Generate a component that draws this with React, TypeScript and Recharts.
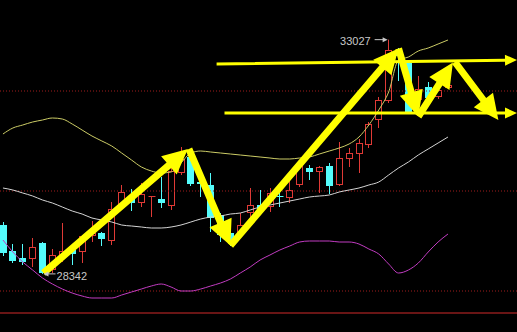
import React from "react";
import { ComposedChart, Bar, Line, XAxis, YAxis, ReferenceLine, ReferenceDot } from "recharts";

// ── daily candles ──────────────────────────────────────────────────────────
const opens = [
  29320, 28800, 28660, 28640, 28960, 28420, 28700, 28820, 28780, 29100, 29160, 29000,
  29720, 29860, 29760, 29880, 29840, 29700, 30360, 30680, 30180, 30120, 29520, 29160,
  29160, 29560, 29720, 29680, 29900, 29860, 30120, 30460, 30380, 30500, 30120, 30640,
  30740, 30920, 31420, 31800, 32780, 32560, 31820, 32080, 31880, 32060,
];
const highs = [
  29380, 28940, 28940, 29060, 28980, 28840, 29360, 28900, 29120, 29400, 29180, 29780,
  30120, 30040, 30160, 29900, 30280, 30460, 30880, 30780, 30200, 30360, 29560, 29240,
  29560, 30060, 30020, 30060, 29960, 30200, 30540, 30520, 30500, 30560, 30980, 30860,
  31040, 31380, 31880, 33027, 32860, 32620, 32300, 32180, 32060, 32160,
];
const lows = [
  28700, 28560, 28520, 28480, 28342, 28360, 28580, 28520, 28560, 28980, 28900, 28920,
  29620, 29600, 29680, 29480, 29660, 29620, 30320, 30100, 29880, 29180, 28980, 28900,
  29080, 29460, 29560, 29580, 29680, 29760, 30080, 30220, 29960, 29940, 30100, 30480,
  30360, 30860, 31260, 31760, 32200, 31580, 31660, 31840, 31840, 32040,
];
const closes = [
  28760, 28600, 28580, 28880, 28360, 28720, 28800, 28740, 29100, 29160, 29040, 29640,
  29980, 29760, 29940, 29900, 29760, 30400, 30640, 30140, 30140, 29460, 29120, 29000,
  29320, 29720, 29620, 29960, 29880, 30020, 30500, 30380, 30480, 30100, 30660, 30760,
  30960, 31340, 31820, 32820, 32700, 31580, 32040, 31860, 32020, 32120,
];

// ── bollinger bands ────────────────────────────────────────────────────────
const upperBand = [
  31140, 31260, 31320, 31380, 31420, 31460, 31440, 31340, 31220, 31100, 31000, 30900,
  30760, 30620, 30480, 30400, 30360, 30380, 30560, 30760, 30800, 30780, 30760, 30740,
  30720, 30700, 30680, 30660, 30640, 30640, 30660, 30680, 30740, 30800, 30860, 30940,
  31080, 31320, 31620, 31980, 32620, 32680, 32800, 32860, 32940, 33020,
];
const midBand = [
  30060, 30020, 29960, 29900, 29820, 29760, 29680, 29600, 29540, 29460, 29420, 29380,
  29320, 29300, 29280, 29260, 29260, 29280, 29320, 29380, 29440, 29480, 29500, 29540,
  29560, 29620, 29680, 29720, 29760, 29800, 29840, 29880, 29900, 29920, 29980, 30020,
  30060, 30120, 30180, 30320, 30460, 30580, 30720, 30840, 30960, 31080,
];
const lowerBand = [
  29020, 28780, 28580, 28420, 28260, 28140, 28040, 27960, 27900, 27860, 27860, 27860,
  27920, 27980, 28040, 28100, 28140, 28080, 28000, 28000, 28040, 28100, 28160, 28240,
  28360, 28480, 28620, 28720, 28820, 28900, 28980, 29000, 29000, 29000, 28980, 28980,
  28940, 28840, 28740, 28540, 28360, 28420, 28560, 28780, 28980, 29140,
];

// ── hand-drawn annotations (bar index, price) ──────────────────────────────
const gridLevels = [32000, 30000, 28000];
const baseLevel = 27560;
const bigArrows: [number, number, number, number][] = [
  [4.1, 28360, 18.7, 30840],
  [18.8, 30840, 23.0, 28910],
  [23.0, 28910, 40.0, 32850],
  [40.0, 32850, 42.0, 31490],
  [42.0, 31490, 45.5, 32570],
  [45.7, 32580, 50.1, 31420],
];
const channelLines: [number, number, number, number][] = [
  [21.6, 32540, 51.98, 32620],
  [22.4, 31560, 51.98, 31560],
];
const highMark = { i: 39, price: 33027 };
const lowMark = { i: 4, price: 28342 };

const data = opens.map((open, i) => ({
  i,
  open,
  high: highs[i],
  low: lows[i],
  close: closes[i],
  upper: upperBand[i],
  mid: midBand[i],
  lower: lowerBand[i],
}));

const RED = "#e03a36";
const CYAN = "#54fcfc";
const YELLOW = "#ffff00";

function Candle(props: any) {
  const { x, y, width, height, payload } = props;
  if (x == null || payload == null) return null;
  const { open, close, high, low } = payload;
  const top = Math.min(y, y + height);
  const h = Math.abs(height);
  const px = (p: number) => top + ((high - p) / (high - low || 1)) * h;
  const cx = Math.round(x + width / 2) + 0.5;
  const up = close >= open;
  const color = up ? RED : CYAN;
  const bTop = Math.round(px(Math.max(open, close)));
  const bBot = Math.round(px(Math.min(open, close)));
  const half = 3;
  return (
    <g>
      <line x1={cx} x2={cx} y1={px(high)} y2={bTop} stroke={color} strokeWidth={1} />
      <line x1={cx} x2={cx} y1={bBot} y2={px(low)} stroke={color} strokeWidth={1} />
      {bBot - bTop < 1.5 ? (
        <line x1={cx - half} x2={cx + half + 1} y1={bTop + 0.5} y2={bTop + 0.5} stroke={color} strokeWidth={1} />
      ) : up ? (
        <rect x={cx - half} y={bTop + 0.5} width={half * 2} height={bBot - bTop - 1} fill="#000" stroke={color} strokeWidth={1} />
      ) : (
        <rect x={cx - half - 0.5} y={bTop} width={half * 2 + 1} height={bBot - bTop} fill={color} />
      )}
    </g>
  );
}

function arrowPoints(x1: number, y1: number, x2: number, y2: number, shaft: number, headW: number, headL: number) {
  const dx = x2 - x1;
  const dy = y2 - y1;
  const len = Math.hypot(dx, dy) || 1;
  const ux = dx / len;
  const uy = dy / len;
  const nx = -uy;
  const ny = ux;
  const bx = x2 - ux * headL;
  const by = y2 - uy * headL;
  const pts = [
    [x1 + nx * shaft, y1 + ny * shaft],
    [bx + nx * shaft, by + ny * shaft],
    [bx + nx * headW, by + ny * headW],
    [x2, y2],
    [bx - nx * headW, by - ny * headW],
    [bx - nx * shaft, by - ny * shaft],
    [x1 - nx * shaft, y1 - ny * shaft],
  ];
  return pts.map((p) => `${p[0].toFixed(1)},${p[1].toFixed(1)}`).join(" ");
}

const BigArrow = (props: any) => (
  <polygon points={arrowPoints(props.x1, props.y1, props.x2, props.y2, 3.5, 12, 25)} fill={YELLOW} />
);

const ThinArrow = (props: any) => (
  <polygon points={arrowPoints(props.x1, props.y1, props.x2, props.y2, 1.5, 5.5, 12)} fill={YELLOW} />
);

const HighLabel = (props: any) => {
  const { cx, cy } = props;
  return (
    <g>
      <text x={cx - 18} y={cy + 5} textAnchor="end" fill="#c8c8c8" fontSize={11} fontFamily="Liberation Sans, Arial, sans-serif">
        33027
      </text>
      <line x1={cx - 14} x2={cx - 4} y1={cy} y2={cy} stroke="#c8c8c8" strokeWidth={1} />
      <polygon points={`${cx - 1},${cy} ${cx - 6},${cy - 2.5} ${cx - 6},${cy + 2.5}`} fill="#c8c8c8" />
    </g>
  );
};

const LowLabel = (props: any) => {
  const { cx, cy } = props;
  return (
    <g>
      <polygon points={`${cx + 1},${cy} ${cx + 6},${cy - 2.5} ${cx + 6},${cy + 2.5}`} fill="#c8c8c8" />
      <line x1={cx + 5} x2={cx + 13} y1={cy} y2={cy} stroke="#c8c8c8" strokeWidth={1} />
      <text x={cx + 14} y={cy + 6} fill="#c8c8c8" fontSize={11} fontFamily="Liberation Sans, Arial, sans-serif">
        28342
      </text>
    </g>
  );
};

export default function App() {
  return (
    <div style={{ position: "fixed", left: 0, top: 0, width: 517, height: 332, background: "#000" }}>
      <ComposedChart width={517} height={332} data={data} margin={{ top: 0, right: 0, bottom: 0, left: 0 }}>
        <XAxis dataKey="i" type="number" domain={[-0.3, 51.98]} hide allowDataOverflow />
        <YAxis type="number" domain={[27180, 33820]} hide allowDataOverflow />
        {gridLevels.map((v) => (
          <ReferenceLine key={v} y={v} stroke="#a01c1c" strokeDasharray="1 2" strokeWidth={1} ifOverflow="visible" />
        ))}
        <ReferenceLine y={baseLevel} stroke="#8c1c1c" strokeWidth={1.5} ifOverflow="visible" />
        <Line dataKey="upper" type="monotone" stroke="#cccc66" strokeWidth={1} dot={false} activeDot={false} isAnimationActive={false} />
        <Line dataKey="mid" type="monotone" stroke="#d4d4d4" strokeWidth={1} dot={false} activeDot={false} isAnimationActive={false} />
        <Line dataKey="lower" type="monotone" stroke="#c23cc2" strokeWidth={1} dot={false} activeDot={false} isAnimationActive={false} />
        <Bar dataKey={(d: any) => [d.low, d.high]} barSize={7} shape={<Candle />} isAnimationActive={false} />
        <ReferenceDot x={highMark.i} y={highMark.price} r={2} shape={<HighLabel />} ifOverflow="visible" />
        <ReferenceDot x={lowMark.i} y={lowMark.price} r={2} shape={<LowLabel />} ifOverflow="visible" />
        {channelLines.map((s, k) => (
          <ReferenceLine
            key={`c${k}`}
            segment={[{ x: s[0], y: s[1] }, { x: s[2], y: s[3] }]}
            shape={<ThinArrow />}
            ifOverflow="visible"
          />
        ))}
        {bigArrows.map((s, k) => (
          <ReferenceLine
            key={`a${k}`}
            segment={[{ x: s[0], y: s[1] }, { x: s[2], y: s[3] }]}
            shape={<BigArrow />}
            ifOverflow="visible"
          />
        ))}
      </ComposedChart>
    </div>
  );
}
